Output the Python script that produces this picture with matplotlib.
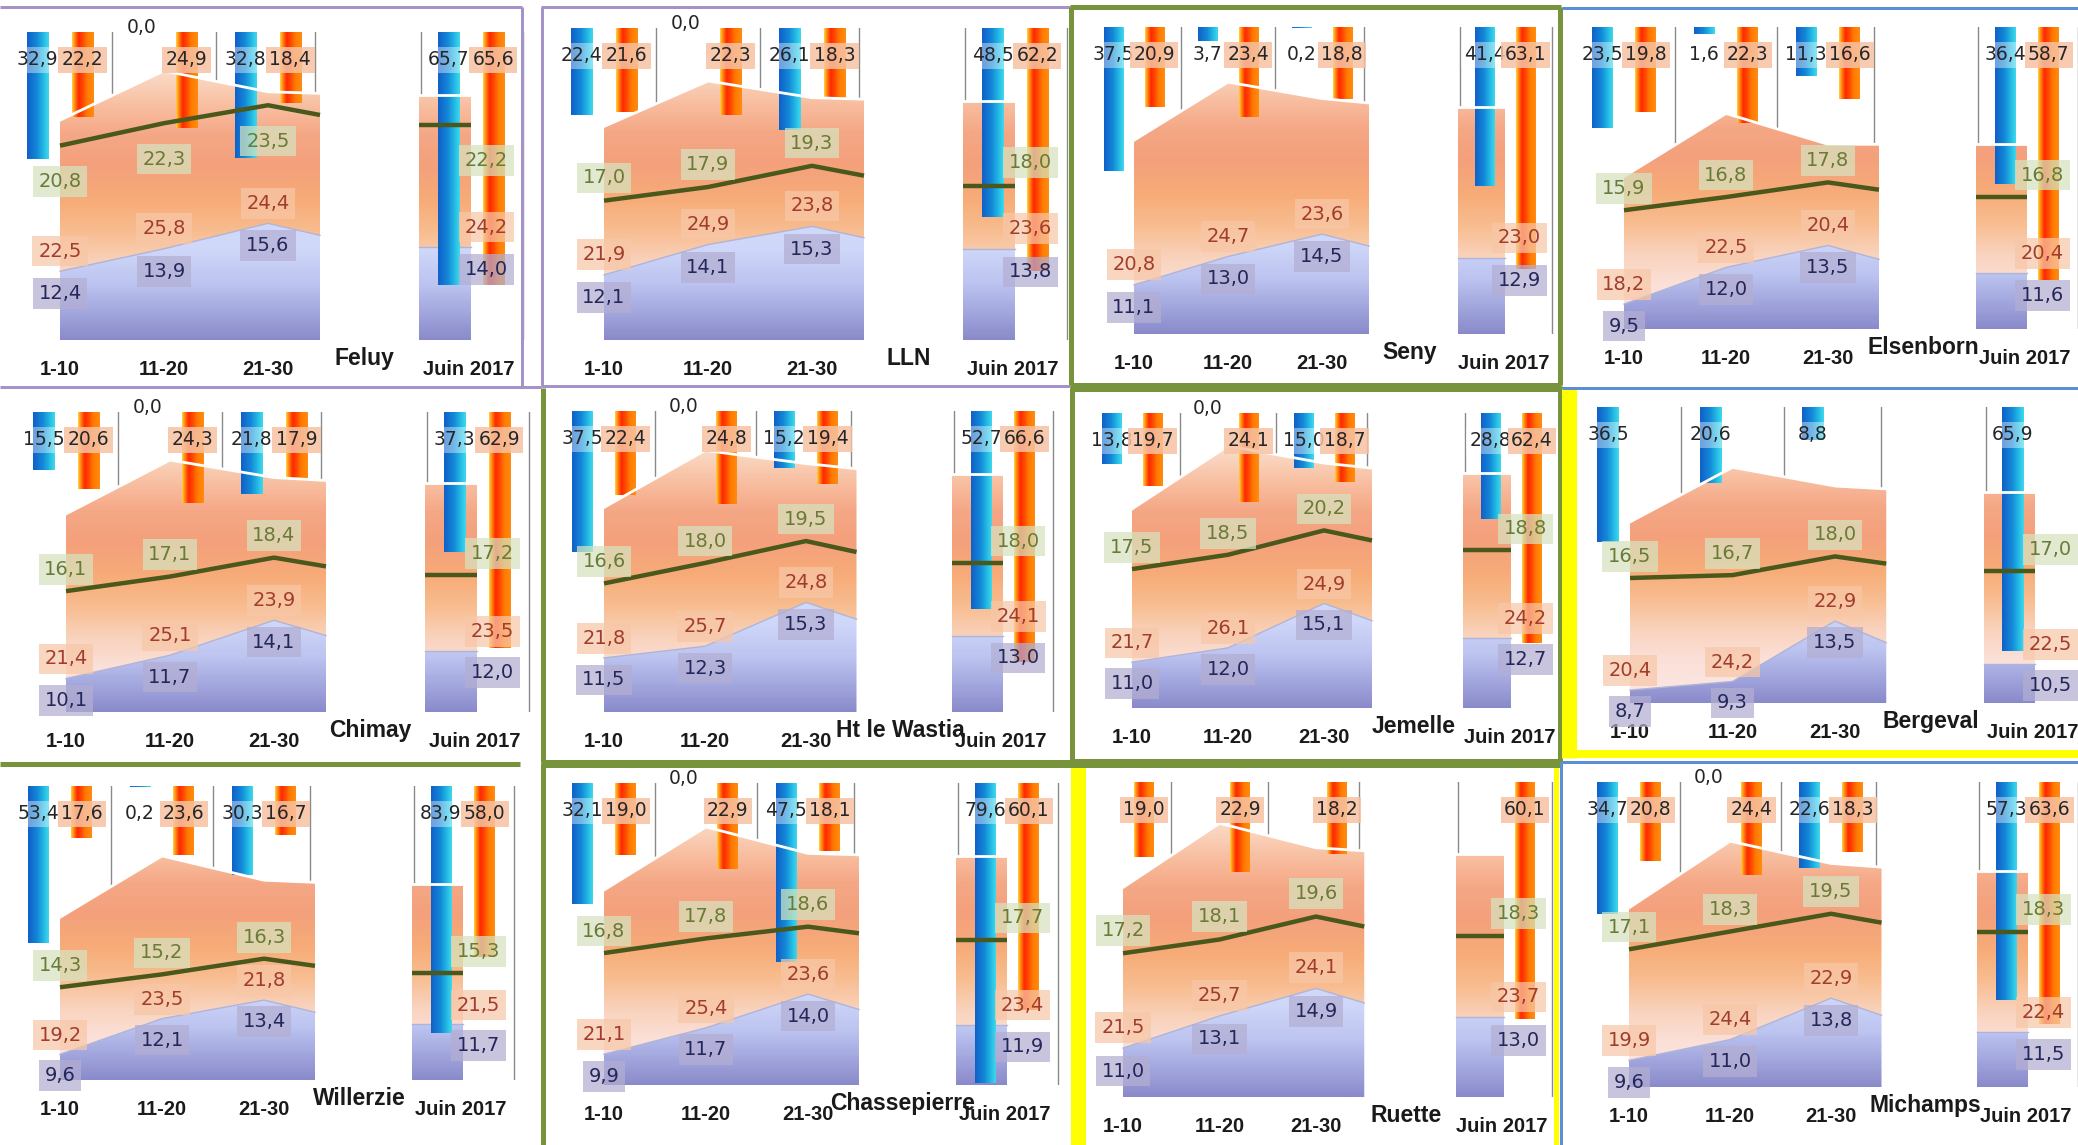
import numpy as np
import matplotlib.pyplot as plt
from matplotlib.colors import LinearSegmentedColormap
from matplotlib.lines import Line2D

W, H = 2078, 1145

stations = ['Feluy', 'LLN', 'Seny', 'Elsenborn',
            'Chimay', 'Ht le Wastia', 'Jemelle', 'Bergeval',
            'Willerzie', 'Chassepierre', 'Ruette', 'Michamps']
decades = ['1-10', '11-20', '21-30']
month = 'Juin 2017'

# pluie par décade / mois (None = pas de données)
rain = [[32.9, 0.0, 32.8], [22.4, 0.0, 26.1], [37.5, 3.7, 0.2], [23.5, 1.6, 11.3],
        [15.5, 0.0, 21.8], [37.5, 0.0, 15.2], [13.8, 0.0, 15.0], [36.5, 20.6, 8.8],
        [53.4, 0.2, 30.3], [32.1, 0.0, 47.5], None, [34.7, 0.0, 22.6]]
rain_month = [65.7, 48.5, 41.4, 36.4, 37.3, 52.7, 28.8, 65.9, 83.9, 79.6, None, 57.3]

# ensoleillement
sun = [[22.2, 24.9, 18.4], [21.6, 22.3, 18.3], [20.9, 23.4, 18.8], [19.8, 22.3, 16.6],
       [20.6, 24.3, 17.9], [22.4, 24.8, 19.4], [19.7, 24.1, 18.7], None,
       [17.6, 23.6, 16.7], [19.0, 22.9, 18.1], [19.0, 22.9, 18.2], [20.8, 24.4, 18.3]]
sun_month = [65.6, 62.2, 63.1, 58.7, 62.9, 66.6, 62.4, None, 58.0, 60.1, 60.1, 63.6]

# températures
tmean = [[20.8, 22.3, 23.5], [17.0, 17.9, 19.3], None, [15.9, 16.8, 17.8],
         [16.1, 17.1, 18.4], [16.6, 18.0, 19.5], [17.5, 18.5, 20.2], [16.5, 16.7, 18.0],
         [14.3, 15.2, 16.3], [16.8, 17.8, 18.6], [17.2, 18.1, 19.6], [17.1, 18.3, 19.5]]
tmean_month = [22.2, 18.0, None, 16.8, 17.2, 18.0, 18.8, 17.0, 15.3, 17.7, 18.3, 18.3]
tmax = [[22.5, 25.8, 24.4], [21.9, 24.9, 23.8], [20.8, 24.7, 23.6], [18.2, 22.5, 20.4],
        [21.4, 25.1, 23.9], [21.8, 25.7, 24.8], [21.7, 26.1, 24.9], [20.4, 24.2, 22.9],
        [19.2, 23.5, 21.8], [21.1, 25.4, 23.6], [21.5, 25.7, 24.1], [19.9, 24.4, 22.9]]
tmax_month = [24.2, 23.6, 23.0, 20.4, 23.5, 24.1, 24.2, 22.5, 21.5, 23.4, 23.7, 22.4]
tmin = [[12.4, 13.9, 15.6], [12.1, 14.1, 15.3], [11.1, 13.0, 14.5], [9.5, 12.0, 13.5],
        [10.1, 11.7, 14.1], [11.5, 12.3, 15.3], [11.0, 12.0, 15.1], [8.7, 9.3, 13.5],
        [9.6, 12.1, 13.4], [9.9, 11.7, 14.0], [11.0, 13.1, 14.9], [9.6, 11.0, 13.8]]
tmin_month = [14.0, 13.8, 12.9, 11.6, 12.0, 13.0, 12.7, 10.5, 11.7, 11.9, 13.0, 11.5]

# échelle des barres (axe inversé) et mise en page en pixels :
# x du centre "1-10", pas entre décades, haut des barres, base du graphe
bar_max = [80, 80, 80, 70, 80, 80, 80, 80, 100, 80, 80, 80]
layout = [(60, 104, 32, 340), (604, 104, 28, 340), (1134, 94, 27, 334), (1624, 102, 27, 329),
          (66, 104, 412, 712), (604, 101, 411, 712), (1132, 96, 413, 708), (1630, 102.5, 407, 703),
          (60, 102, 786, 1080), (604, 102, 783, 1085), (1123, 96.5, 782, 1097), (1629, 101, 782, 1087)]
mean_dy = [-2.4] + [1.5] * 11

XMIN, XMAX = -0.6, 4.5
J = 3.95
BW = 0.205
T_LO, T_HI = 7.8, 28.4

orange_cmap = LinearSegmentedColormap.from_list('tx', [
    (0.0, '#fbe8e6'), (0.15, '#fbe0d8'), (0.25, '#f9d2bc'), (0.35, '#f8bd90'),
    (0.45, '#f7ac78'), (0.57, '#f4a07c'), (0.67, '#f5a886'), (0.76, '#f8bea0'),
    (0.85, '#fad6c0'), (0.93, '#fce8dc'), (1.0, '#fef3ec')])
blue_cmap = LinearSegmentedColormap.from_list('tn', [
    (0.0, '#8a8aca'), (0.08, '#a0a4dc'), (0.18, '#bcc4f0'), (0.30, '#d0d8fa'), (1.0, '#dae2fc')])
rain_cmap = LinearSegmentedColormap.from_list('rr', [
    (0.0, '#1060c8'), (0.45, '#1488d8'), (0.75, '#22b8e4'), (1.0, '#40d8ec')])
sun_cmap = LinearSegmentedColormap.from_list('ss', [
    (0.0, '#ffd040'), (0.12, '#ff8a10'), (0.3, '#ff2800'), (0.5, '#ff4a00'),
    (0.7, '#ff7a00'), (1.0, '#ff8c10')])

vgrad = np.linspace(0, 1, 256).reshape(-1, 1)
hgrad = np.linspace(0, 1, 64).reshape(1, -1)

NUM = dict(family='DejaVu Sans', fontsize=14, ha='center', va='center')
TOP = dict(family='DejaVu Sans', fontsize=13.5, ha='center', va='center')
BOLD = dict(family='Liberation Sans', weight='bold', ha='center', va='center')


def fmt(v):
    return f'{v:.1f}'.replace('.', ',')


def shade(ax, x, lo, hi, cmap):
    poly = ax.fill_between(x, lo, hi, facecolor='none', edgecolor='none', zorder=2)
    im = ax.imshow(vgrad, cmap=cmap, extent=(XMIN, XMAX, T_LO, T_HI), origin='lower',
                   aspect='auto', interpolation='bilinear', zorder=2)
    im.set_clip_path(poly.get_paths()[0], transform=ax.transData)


def bars(axb, x, values, cmap):
    rects = axb.bar(x, values, width=BW, color='none', zorder=3)
    for r in rects:
        if r.get_height() <= 0:
            continue
        axb.imshow(hgrad, cmap=cmap, aspect='auto', interpolation='bilinear', zorder=3,
                   extent=(r.get_x(), r.get_x() + r.get_width(), r.get_height(), 0))


def top_labels(axb, x, values, box, alpha, z):
    for xi, v in zip(x, values):
        dy = 3 if v == 0 else -20
        axb.annotate(fmt(v), xy=(xi, 0), xytext=(0, dy), textcoords='offset points',
                     color='#262626', zorder=z, annotation_clip=False,
                     bbox=dict(boxstyle='square,pad=0.18', fc=box, ec='none', alpha=alpha), **TOP)


def tlabel(axb, ax, x, y, v, tc, box):
    axb.text(x, y, fmt(v), transform=ax.transData, color=tc, zorder=7,
             bbox=dict(boxstyle='square,pad=0.3', fc=box, ec='none', alpha=0.72), **NUM)


fig = plt.figure(figsize=(W / 100, H / 100), dpi=100)
fig.patch.set_facecolor('white')

for k, name in enumerate(stations):
    c0, sp, ytop, ybase = layout[k]
    ax = fig.add_axes([(c0 + XMIN * sp) / W, 1 - ybase / H,
                       (XMAX - XMIN) * sp / W, (ybase - ytop) / H])
    ax.axis('off')
    axb = ax.twinx()
    axb.axis('off')

    for gx in [0.5, 1.5, 2.45, J - 0.48, J + 0.5]:
        ax.axvline(gx, color='#8a8a8a', lw=1, zorder=1)

    xs = np.array([0, 1, 2, 2.5])
    lo = tmin[k] + [(tmin[k][2] + tmin_month[k]) / 2]
    hi = tmax[k] + [(tmax[k][2] + tmax_month[k]) / 2]
    xj = [J - 0.5, J]
    shade(ax, xs, lo, hi, orange_cmap)
    shade(ax, xs, T_LO, lo, blue_cmap)
    shade(ax, xj, [tmin_month[k]] * 2, [tmax_month[k]] * 2, orange_cmap)
    shade(ax, xj, T_LO, [tmin_month[k]] * 2, blue_cmap)
    ax.plot(xs, lo, color='#b0b4d6', lw=1, zorder=2.5)
    ax.plot(xj, [tmin_month[k]] * 2, color='#b0b4d6', lw=1, zorder=2.5)

    # barres pendantes
    if rain[k] is not None:
        rx = [i - 0.215 for i in range(3)] + [J - 0.215]
        rv = rain[k] + [rain_month[k]]
        bars(axb, rx, rv, rain_cmap)
        top_labels(axb, rx, rv, 'white', 0.4, 5)
    if sun[k] is not None:
        sx = [i + 0.215 for i in range(3)] + [J + 0.215]
        sv = sun[k] + [sun_month[k]]
        bars(axb, sx, sv, sun_cmap)
        top_labels(axb, sx, sv, '#f7c2a2', 0.85, 6)

    # bord blanc de la zone Tmax par-dessus les barres
    axb.plot(xs, hi, transform=ax.transData, color='white', lw=2, zorder=4)
    axb.plot(xj, [tmax_month[k]] * 2, transform=ax.transData, color='white', lw=2, zorder=4)

    if tmean[k] is not None:
        me = tmean[k] + [(tmean[k][2] + tmean_month[k]) / 2]
        axb.plot(xs, me, transform=ax.transData, color='#4a581c', lw=3.2, zorder=5,
                 solid_capstyle='butt')
        axb.plot(xj, [tmean_month[k]] * 2, transform=ax.transData, color='#4a581c',
                 lw=3.2, zorder=5, solid_capstyle='butt')
        for i in range(3):
            tlabel(axb, ax, i, tmean[k][i] + mean_dy[k], tmean[k][i], '#6a7a38', '#d6e3bf')
        tlabel(axb, ax, J + 0.15, tmean_month[k] + mean_dy[k], tmean_month[k], '#6a7a38', '#d6e3bf')

    for i in range(3):
        tlabel(axb, ax, i, tmin[k][i] + 1.35, tmax[k][i], '#a23c2c', '#f7c7a7')
        tlabel(axb, ax, i, tmin[k][i] - 1.5, tmin[k][i], '#23275a', '#b3aed2')
    tlabel(axb, ax, J + 0.15, tmin_month[k] + 1.35, tmax_month[k], '#a23c2c', '#f7c7a7')
    tlabel(axb, ax, J + 0.15, tmin_month[k] - 1.5, tmin_month[k], '#23275a', '#b3aed2')

    for i, lab in enumerate(decades):
        ax.annotate(lab, xy=(i, 0), xycoords=('data', 'axes fraction'), xytext=(0, -21.5),
                    textcoords='offset points', fontsize=14.5, color='#1a1a1a',
                    annotation_clip=False, **BOLD)
    ax.annotate(month, xy=(J - 0.02, 0), xycoords=('data', 'axes fraction'), xytext=(0, -21.5),
                textcoords='offset points', fontsize=14.5, color='#1a1a1a',
                annotation_clip=False, **BOLD)
    ax.annotate(name, xy=(2.93, 0), xycoords=('data', 'axes fraction'), xytext=(0, -13),
                textcoords='offset points', fontsize=16.5, color='#1a1a1a',
                annotation_clip=False, **BOLD)

    ax.set_xlim(XMIN, XMAX)
    ax.set_ylim(T_LO, T_HI)
    axb.set_xlim(XMIN, XMAX)
    axb.set_ylim(bar_max[k], 0)


# cadres des vignettes
PURPLE, GREEN, BLUE, YELLOW = '#a492c8', '#77933c', '#5a8fd6', '#ffff00'


def hline(y, x0, x1, color, px):
    fig.add_artist(Line2D([x0 / W, x1 / W], [1 - y / H, 1 - y / H], transform=fig.transFigure,
                          color=color, lw=px * 0.72, solid_capstyle='butt'))


def vline(x, y0, y1, color, px):
    fig.add_artist(Line2D([x / W, x / W], [1 - y0 / H, 1 - y1 / H], transform=fig.transFigure,
                          color=color, lw=px * 0.72, solid_capstyle='butt'))


hline(7, 0, 522, PURPLE, 3); vline(522, 7, 386, PURPLE, 3); hline(387, 0, 541, PURPLE, 3)
hline(7, 541, 1070, PURPLE, 3); vline(542, 7, 386, PURPLE, 3); hline(386, 541, 1070, PURPLE, 3)
hline(7, 1070, 1561, GREEN, 5); hline(385, 1070, 1561, GREEN, 5)
vline(1071, 7, 385, GREEN, 5); vline(1560, 7, 385, GREEN, 5)
hline(8, 1562, 2078, BLUE, 3)
vline(543, 388, 762, GREEN, 5); vline(1072, 388, 762, GREEN, 5); hline(762, 541, 1072, GREEN, 5)
hline(389, 1070, 1561, GREEN, 5); vline(1560, 386, 762, GREEN, 5); hline(761, 1070, 1561, GREEN, 5)
hline(764, 0, 520, GREEN, 5)
vline(1569, 388, 758, YELLOW, 15); hline(754, 1562, 2078, YELLOW, 8)
hline(388, 1562, 2078, BLUE, 3); hline(762, 1562, 2078, BLUE, 3)
vline(543, 764, 1145, GREEN, 5); vline(1073, 764, 1145, GREEN, 5); hline(765, 541, 1072, GREEN, 5)
vline(1078, 766, 1145, YELLOW, 15); vline(1556, 766, 1145, YELLOW, 5); hline(766, 1070, 1560, GREEN, 4)
vline(1561, 762, 1145, BLUE, 3)

fig.savefig('out.png', dpi=100, facecolor='white')
